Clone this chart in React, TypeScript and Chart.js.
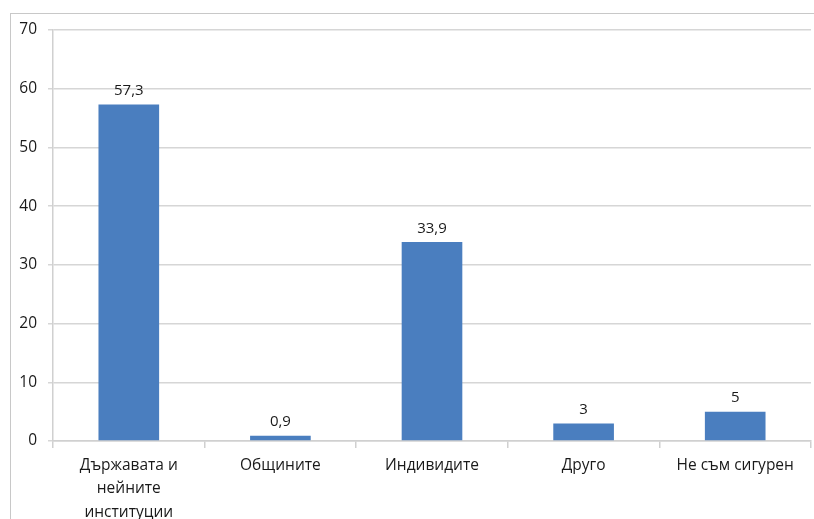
import React, { useEffect, useRef } from "react";
import { Chart, registerables } from "chart.js";

Chart.register(...registerables);

const categories: string[][] = [
  ["Държавата и", "нейните", "институции"],
  ["Общините"],
  ["Индивидите"],
  ["Друго"],
  ["Не съм сигурен"],
];
const values: number[] = [57.3, 0.9, 33.9, 3, 5];
const yMin = 0;
const yMax = 70;
const yStep = 10;

const FONT = "'Open Sans', 'Noto Sans', sans-serif";

const valueLabels = {
  id: "valueLabels",
  afterDatasetsDraw(chart: any) {
    const ctx = chart.ctx;
    const meta = chart.getDatasetMeta(0);
    ctx.save();
    ctx.font = `15px ${FONT}`;
    ctx.fillStyle = "#1a1a1a";
    ctx.textAlign = "center";
    ctx.textBaseline = "bottom";
    meta.data.forEach((bar: any, i: number) => {
      const txt = String(values[i]).replace(".", ",");
      ctx.fillText(txt, bar.x, bar.y - 6);
    });
    ctx.restore();
  },
};

export default function App() {
  const ref = useRef<HTMLCanvasElement | null>(null);
  useEffect(() => {
    if (!ref.current) return;
    const chart = new Chart(ref.current, {
      type: "bar",
      data: {
        labels: categories,
        datasets: [
          {
            data: values,
            backgroundColor: "#4a7ebf",
            borderWidth: 0,
            barPercentage: 0.4,
            categoryPercentage: 1,
          },
        ],
      },
      options: {
        animation: false,
        responsive: false,
        maintainAspectRatio: false,
        layout: { padding: { top: 30, right: 3, bottom: 0, left: 0 } },
        plugins: {
          legend: { display: false },
          tooltip: { enabled: false },
        },
        scales: {
          x: {
            afterFit: (s: any) => {
              s.height = 78;
            },
            grid: {
              drawOnChartArea: false,
              offset: true,
              tickLength: 7,
              color: "#d0d0d0",
              lineWidth: 1.5,
            },
            border: { color: "#d0d0d0", width: 1.5 },
            ticks: {
              font: { family: FONT, size: 15.5, lineHeight: 1.5 },
              color: "#1a1a1a",
              padding: 6,
              maxRotation: 0,
              autoSkip: false,
            },
          },
          y: {
            min: yMin,
            max: yMax,
            afterFit: (s: any) => {
              s.width = 53;
            },
            ticks: {
              stepSize: yStep,
              font: { family: FONT, size: 15.5 },
              color: "#1a1a1a",
              padding: 11,
            },
            grid: {
              color: "#d6d6d6",
              lineWidth: 1.5,
              tickLength: 5,
            },
            border: { color: "#d0d0d0", width: 1.5 },
          },
        },
      },
      plugins: [valueLabels],
    });
    return () => chart.destroy();
  }, []);
  return (
    <div style={{ position: "fixed", left: 0, top: 0, width: 814, height: 519, background: "#fff" }}>
      <div
        style={{
          position: "absolute",
          left: 10,
          top: 13,
          width: 820,
          height: 520,
          border: "1.5px solid #c8c8c8",
          boxSizing: "border-box",
        }}
      />
      <canvas ref={ref} width={814} height={519} style={{ position: "absolute", left: 0, top: 0 }} />
    </div>
  );
}
